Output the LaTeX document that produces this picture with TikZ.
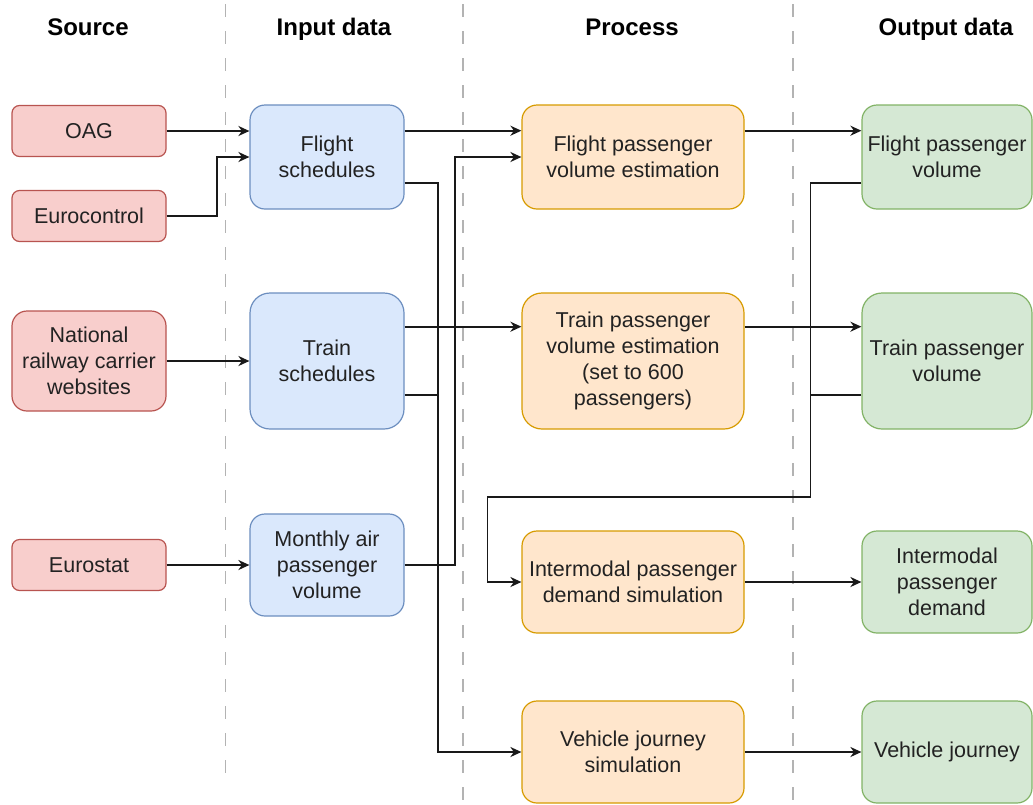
\documentclass[tikz,border=0pt]{standalone}
\usepackage{fontspec}
\setmainfont{Liberation Sans}
\usetikzlibrary{arrows.meta,calc}

\definecolor{srcfill}{HTML}{F8CECC}
\definecolor{srcline}{HTML}{B85450}
\definecolor{inpfill}{HTML}{DAE8FC}
\definecolor{inpline}{HTML}{6C8EBF}
\definecolor{procfill}{HTML}{FFE6CC}
\definecolor{procline}{HTML}{D79B00}
\definecolor{outfill}{HTML}{D5E8D4}
\definecolor{outline}{HTML}{82B366}
\definecolor{txt}{HTML}{222222}
\definecolor{sepgray}{HTML}{B3B3B3}

\begin{document}
\begin{tikzpicture}[
  x=1pt, y=-1pt,
  box/.style={draw, line width=1.2pt, align=center, inner sep=2pt,
    font=\fontsize{21.5}{26}\selectfont, text=txt},
  src/.style={box, fill=srcfill, draw=srcline, minimum width=154pt},
  inp/.style={box, fill=inpfill, draw=inpline, minimum width=154pt},
  proc/.style={box, fill=procfill, draw=procline, minimum width=222pt},
  outp/.style={box, fill=outfill, draw=outline, minimum width=170pt},
  head/.style={font=\fontsize{24}{28}\selectfont\bfseries, text=black, anchor=base, inner sep=0pt},
  sep/.style={draw=sepgray, line width=1.2pt, dash pattern=on 13pt off 14pt},
  link/.style={line width=1.8pt, draw=black!90},
  arr/.style={link, -{Stealth[length=11pt,width=10pt,inset=3.5pt]}},
]
\useasboundingbox (0,0) rectangle (1033,804);

% column separators
\draw[sep] (225.5,4) -- (225.5,780);
\draw[sep] (463,4) -- (463,804);
\draw[sep] (793,4) -- (793,804);

% column headings
\node[head] (hsrc)  at (88,35)  {Source};
\node[head] (hinp)  at (334,35) {Input data};
\node[head] (hproc) at (632,35) {Process};
\node[head] (hout)  at (946,35) {Output data};

% sources
\node[src, minimum height=51pt, rounded corners=7.5pt] (oag)   at (89,131) {OAG};
\node[src, minimum height=51pt, rounded corners=7.5pt] (euro)  at (89,216) {Eurocontrol};
\node[src, minimum height=100pt, rounded corners=15pt] (nrc)   at (89,361) {National\\railway carrier\\websites};
\node[src, minimum height=51pt, rounded corners=7.5pt] (estat) at (89,565) {Eurostat};

% input data
\node[inp, minimum height=104pt, rounded corners=15pt] (fs) at (327,157) {Flight\\schedules};
\node[inp, minimum height=136pt, rounded corners=20pt] (ts) at (327,361) {Train\\schedules};
\node[inp, minimum height=102pt, rounded corners=15pt] (ma) at (327,565) {Monthly air\\passenger\\volume};

% processes
\node[proc, minimum height=104pt, rounded corners=15pt] (fpe) at (633,157) {Flight passenger\\volume estimation};
\node[proc, minimum height=136pt, rounded corners=20pt] (tpe) at (633,361) {Train passenger\\volume estimation\\(set to 600\\passengers)};
\node[proc, minimum height=102pt, rounded corners=15pt] (ipd) at (633,582) {Intermodal passenger\\demand simulation};
\node[proc, minimum height=102pt, rounded corners=15pt] (vjs) at (633,752) {Vehicle journey\\simulation};

% output data
\node[outp, minimum height=104pt, rounded corners=15pt] (fpv)  at (947,157) {Flight passenger\\volume};
\node[outp, minimum height=136pt, rounded corners=20pt] (tpv)  at (947,361) {Train passenger\\volume};
\node[outp, minimum height=102pt, rounded corners=15pt] (ipdo) at (947,582) {Intermodal\\passenger\\demand};
\node[outp, minimum height=102pt, rounded corners=15pt] (vj)   at (947,752) {Vehicle journey};

% ports at quarter heights
\coordinate (fs-o1)  at ($(fs.north east)!.25!(fs.south east)$);
\coordinate (fs-o3)  at ($(fs.north east)!.75!(fs.south east)$);
\coordinate (ts-o1)  at ($(ts.north east)!.25!(ts.south east)$);
\coordinate (ts-o3)  at ($(ts.north east)!.75!(ts.south east)$);
\coordinate (fpe-o1) at ($(fpe.north east)!.25!(fpe.south east)$);
\coordinate (tpe-o1) at ($(tpe.north east)!.25!(tpe.south east)$);
\coordinate (fpv-o3) at ($(fpv.north west)!.75!(fpv.south west)$);
\coordinate (tpv-o3) at ($(tpv.north west)!.75!(tpv.south west)$);

% sources -> input data
\draw[arr] (oag.east) -- (oag.east -| fs.west);
\draw[arr] (euro.east) -- ++(50,0) |- (fs.west);
\draw[arr] (nrc.east) -- (ts.west);
\draw[arr] (estat.east) -- (ma.west);

% input data -> processes
\draw[arr] (fs-o1) -- (fs-o1 -| fpe.west);
\draw[arr] (fs-o3) -- ++(33,0) |- (vjs.west);
\draw[link] (ts-o3) -- ++(33,0);
\draw[arr] (ts-o1) -- (ts-o1 -| tpe.west);
\draw[arr] (ma.east) -- ++(50,0) |- (fpe.west);

% processes -> output data
\draw[arr] (fpe-o1) -- (fpe-o1 -| fpv.west);
\draw[arr] (tpe-o1) -- (tpe-o1 -| tpv.west);
\draw[arr] (ipd.east) -- (ipdo.west);
\draw[arr] (vjs.east) -- (vj.west);

% passenger volumes feed the intermodal simulation
\draw[arr] (fpv-o3) -- ++(-51,0) -- ++(0,314) -| ($(ipd.west)+(-34,0)$) -- (ipd.west);
\draw[link] (tpv-o3) -- ++(-51,0);
\end{tikzpicture}
\end{document}
